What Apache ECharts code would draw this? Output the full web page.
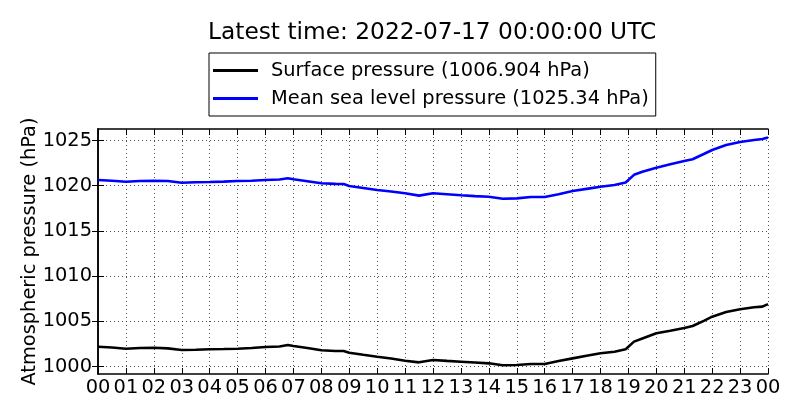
<!DOCTYPE html>
<html lang="en">
<head>
    <meta charset="utf-8">
    <title>Atmospheric pressure</title>
    <script src="https://cdn.jsdelivr.net/npm/echarts@6/dist/echarts.min.js"></script>
    <style>
        html, body { margin: 0; padding: 0; background: #fff; }
        #main { width: 800px; height: 420px; }
    </style>
</head>
<body>
    <div id="main"></div>
    <script type="text/javascript">
        // hours since 2022-07-16 00:00 UTC
        var hours = [0, 0.5, 1, 1.5, 2, 2.5, 3, 3.5, 4, 4.5, 5, 5.5, 6, 6.5, 6.8, 7, 7.5, 8, 8.5, 8.8, 9, 9.5, 10, 10.5, 11, 11.5,
                     12, 12.5, 13, 13.5, 14, 14.5, 15, 15.5, 16, 16.5, 17, 17.5, 18, 18.5, 18.9, 19.2, 19.5, 20, 20.5, 21, 21.3,
                     21.7, 22, 22.5, 23, 23.5, 23.8, 24];
        var mslp = [1020.63, 1020.55, 1020.44, 1020.52, 1020.55, 1020.52, 1020.33, 1020.38, 1020.41, 1020.45, 1020.52, 1020.55, 1020.63, 1020.68, 1020.82,
                    1020.71, 1020.5, 1020.27, 1020.2, 1020.18, 1019.97, 1019.75, 1019.52, 1019.35, 1019.16, 1018.9,
                    1019.16, 1019.05, 1018.94, 1018.85, 1018.78, 1018.56, 1018.6, 1018.75, 1018.75, 1019.05, 1019.41, 1019.65, 1019.89, 1020.08,
                    1020.35, 1021.2, 1021.55, 1021.99, 1022.37, 1022.73, 1022.92, 1023.5, 1023.95, 1024.5, 1024.83, 1025.05, 1025.17, 1025.34];
        var surface = [1002.19, 1002.1, 1001.97, 1002.04, 1002.08, 1002.0, 1001.83, 1001.86, 1001.9, 1001.93, 1001.97, 1002.05, 1002.16, 1002.22, 1002.38,
                       1002.27, 1002.05, 1001.79, 1001.72, 1001.72, 1001.53, 1001.3, 1001.08, 1000.88, 1000.64, 1000.46,
                       1000.72, 1000.62, 1000.53, 1000.44, 1000.35, 1000.13, 1000.17, 1000.28, 1000.28, 1000.6, 1000.9, 1001.18, 1001.46, 1001.64,
                       1001.9, 1002.75, 1003.1, 1003.67, 1003.96, 1004.26, 1004.48, 1005.05, 1005.51, 1006.03, 1006.33, 1006.55, 1006.62, 1006.904];
        var yTicks = [1000, 1005, 1010, 1015, 1020, 1025];
        var seriesNames = ['Surface pressure (1006.904 hPa)', 'Mean sea level pressure (1025.34 hPa)'];
        var titleText = 'Latest time: 2022-07-17 00:00:00 UTC';

        function pairs(vals) {
            var out = [];
            for (var i = 0; i < hours.length; i++) {
                out.push([hours[i], vals[i]]);
            }
            return out;
        }
        function hourLabel(v) {
            var h = Math.round(v) % 24;
            return (h < 10 ? '0' : '') + h;
        }

        var font = 'DejaVu Sans';
        var fs = 19.4;
        var yMin = 999.17, yMax = 1026.27;
        var tickIn = { show: true, inside: true, length: 6, lineStyle: { color: '#000', width: 1 } };
        var axisLine = { show: true, lineStyle: { color: '#000', width: 1.5 } };

        var myChart = echarts.init(document.getElementById('main'));
        myChart.setOption({
            animation: false,
            backgroundColor: '#fff',
            textStyle: { fontFamily: font },
            title: {
                text: titleText,
                left: 208,
                top: 21,
                padding: 0,
                textStyle: { fontFamily: font, fontSize: 23.3, fontWeight: 'normal', color: '#000' }
            },
            legend: {
                data: seriesNames,
                orient: 'vertical',
                left: 209,
                top: 53,
                padding: [8, 7, 8, 4],
                itemGap: 9,
                itemWidth: 45,
                itemHeight: 3,
                icon: 'rect',
                borderColor: '#000',
                borderWidth: 1,
                backgroundColor: '#fff',
                textStyle: { fontFamily: font, fontSize: fs, color: '#000', padding: [0, 0, 0, 8] }
            },
            grid: { left: 98, right: 32, top: 129, bottom: 46, containLabel: false },
            xAxis: [{
                type: 'value',
                min: 0, max: 24, interval: 1,
                axisLine: axisLine,
                axisTick: tickIn,
                axisLabel: { formatter: hourLabel, fontSize: fs, color: '#000', margin: 4, fontFamily: font },
                splitLine: { show: true, lineStyle: { color: '#222', width: 0.8, type: [1, 3] } }
            }, {
                type: 'value',
                position: 'top',
                min: 0, max: 24, interval: 1,
                axisLine: axisLine,
                axisTick: tickIn,
                axisLabel: { show: false },
                splitLine: { show: false }
            }],
            yAxis: [{
                type: 'value',
                min: yMin, max: yMax,
                name: 'Atmospheric pressure (hPa)',
                nameLocation: 'middle',
                nameGap: 59,
                nameMoveOverlap: false,
                nameTextStyle: { fontFamily: font, fontSize: fs, color: '#000' },
                axisLine: axisLine,
                axisTick: { show: true, inside: true, length: 6, customValues: yTicks, lineStyle: { color: '#000', width: 1 } },
                axisLabel: {
                    customValues: yTicks,
                    formatter: function (v) { return String(Math.round(v)); },
                    fontSize: fs, color: '#000', margin: 6, fontFamily: font
                },
                splitLine: { show: true, lineStyle: { color: '#222', width: 0.8, type: [1, 3] } }
            }, {
                type: 'value',
                position: 'right',
                min: yMin, max: yMax,
                axisLine: axisLine,
                axisTick: { show: true, inside: true, length: 6, customValues: yTicks, lineStyle: { color: '#000', width: 1 } },
                axisLabel: { show: false },
                splitLine: { show: false }
            }],
            series: [{
                name: seriesNames[0],
                type: 'line',
                data: pairs(surface),
                showSymbol: false,
                symbol: 'none',
                color: '#000',
                lineStyle: { color: '#000', width: 2.6 }
            }, {
                name: seriesNames[1],
                type: 'line',
                data: pairs(mslp),
                showSymbol: false,
                symbol: 'none',
                color: '#0000ff',
                lineStyle: { color: '#0000ff', width: 2.6 }
            }]
        });
    </script>
</body>
</html>
